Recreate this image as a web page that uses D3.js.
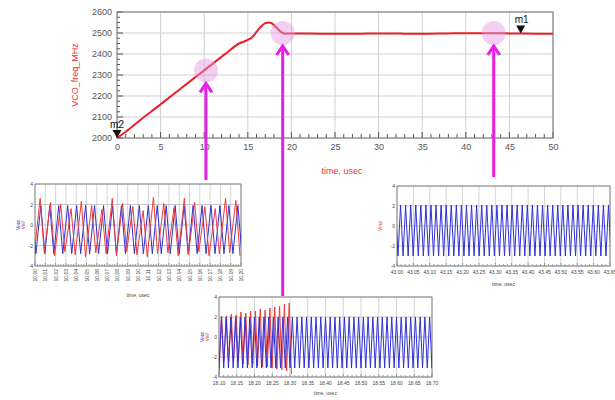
<!DOCTYPE html>
<html>
<head>
<meta charset="utf-8">
<script src="https://cdn.jsdelivr.net/npm/d3@7"></script>
<style>
  body { margin: 0; background: #fff; }
  svg { font-family: Arial, "Liberation Sans", sans-serif; }
</style>
</head>
<body>
<svg id="chart" width="615" height="400"></svg>
<script>
// main trace: VCO frequency vs time
var freqTime = [0, 1, 2.5, 5, 7.5, 10, 12.5, 14, 15, 15.5, 16, 16.5, 17, 17.4, 17.8, 18.3, 18.8, 19.3, 20, 22, 25, 28, 30, 33, 35, 38, 40, 43, 45, 48, 50]
var freqMHz = [2000, 2030, 2080, 2160, 2242, 2322, 2403, 2450, 2467, 2480, 2505, 2530, 2547, 2550, 2545, 2525, 2505, 2497, 2498, 2498, 2496, 2497, 2498, 2497, 2496, 2498, 2499, 2499, 2498, 2497, 2496]

var xTickLabels = [0, 5, 10, 15, 20, 25, 30, 35, 40, 45, 50]
var yTickLabels = [2000, 2100, 2200, 2300, 2400, 2500, 2600]

var markerNames = ['m1', 'm2']
var markerTime = [46.3, 0]
var markerValue = [2498, 2000]

var spotTime = [10.2, 19, 43.2]
var spotValue = [2322, 2500, 2500]

// zoomed scope windows (volts), one entry per inset
var voltTicks = [4, 2, 0, -2, -4]
var leftTimeLabels = ['10.00', '10.01', '10.02', '10.03', '10.04', '10.05', '10.06', '10.07', '10.08', '10.09', '10.10', '10.11', '10.12', '10.13', '10.14', '10.15', '10.16', '10.17', '10.18', '10.19', '10.20']
var bottomTimeLabels = ['18.10', '18.15', '18.20', '18.25', '18.30', '18.35', '18.40', '18.45', '18.50', '18.55', '18.60', '18.65', '18.70']
var rightTimeLabels = ['43.00', '43.05', '43.10', '43.15', '43.20', '43.25', '43.30', '43.35', '43.40', '43.45', '43.50', '43.55', '43.60', '43.65']

// per-cycle extremes
var leftRedPeaks = [2.6, 2.2, 2.0, 1.6, 2.3, 1.9, 1.5, 2.6, 2.1, 1.8, 1.4, 2.7, 2.1, 1.7, 2.6, 2.2, 1.8, 1.6, 2.6, 2.4]
var leftRedTroughs = [-2.7, -3.0, -2.6, -2.9, -3.1, -2.7, -2.8, -3.0, -2.6, -2.9, -3.1, -2.8, -2.7, -3.0, -2.9, -2.6, -3.0, -2.8, -2.7, -3.0]
var bottomRedPeaks = [2.1, 2.1, 2.3, 2.2, 2.5, 2.4, 2.6, 2.6, 2.8, 2.7, 2.9, 3.0, 3.1, 3.3, 3.4]
var bottomRedTroughs = [-2.4, -2.5, -2.6, -2.5, -2.7, -2.8, -2.7, -2.9, -3.0, -3.0, -3.1, -3.2, -3.3, -3.4, -3.7]

var svg = d3.select('#chart')

// ---------- main chart ----------
var x = d3.scaleLinear().domain([0, 50]).range([117, 553])
var y = d3.scaleLinear().domain([2000, 2600]).range([138, 12])

var main = svg.append('g').attr('class', 'main')

main.append('g')
  .selectAll('line')
  .data(xTickLabels)
  .enter()
  .append('line')
  .attr('x1', function(d) { return x(d) })
  .attr('x2', function(d) { return x(d) })
  .attr('y1', y.range()[1])
  .attr('y2', y.range()[0])
  .attr('stroke', '#d0d0d0')

main.append('g')
  .selectAll('line')
  .data(yTickLabels)
  .enter()
  .append('line')
  .attr('x1', x.range()[0])
  .attr('x2', x.range()[1])
  .attr('y1', function(d) { return y(d) })
  .attr('y2', function(d) { return y(d) })
  .attr('stroke', '#d0d0d0')

// minor ticks along the inside of the frame
main.append('g')
  .selectAll('line')
  .data(d3.range(0, 51, 1))
  .enter()
  .append('line')
  .attr('x1', function(d) { return x(d) })
  .attr('x2', function(d) { return x(d) })
  .attr('y1', y(2000))
  .attr('y2', function(d) { return d % 5 == 0 ? y(2000) - 6 : y(2000) - 4 })
  .attr('stroke', '#555')

main.append('g')
  .selectAll('line')
  .data(d3.range(2000, 2601, 25))
  .enter()
  .append('line')
  .attr('x1', x(0))
  .attr('x2', function(d) { return d % 100 == 0 ? x(0) + 6 : x(0) + 3 })
  .attr('y1', function(d) { return y(d) })
  .attr('y2', function(d) { return y(d) })
  .attr('stroke', '#555')

main.append('rect')
  .attr('x', x.range()[0])
  .attr('y', y.range()[1])
  .attr('width', x.range()[1] - x.range()[0])
  .attr('height', y.range()[0] - y.range()[1])
  .attr('fill', 'none')
  .attr('stroke', '#777')

var xAxis = main.append('g')
  .attr('transform', 'translate(0,' + y.range()[0] + ')')
  .call(d3.axisBottom(x).tickValues(xTickLabels).tickFormat(d3.format('d')).tickSize(0).tickPadding(6))
var yAxis = main.append('g')
  .attr('transform', 'translate(' + x.range()[0] + ',0)')
  .call(d3.axisLeft(y).tickValues(yTickLabels).tickFormat(d3.format('d')).tickSize(0).tickPadding(5))
;[xAxis, yAxis].forEach(function(a) {
  a.select('.domain').remove()
  a.selectAll('text').attr('fill', '#555').style('font-size', '9px').style('font-family', 'Arial, "Liberation Sans", sans-serif')
})

main.append('text')
  .attr('transform', 'translate(78,75) rotate(-90)')
  .attr('text-anchor', 'middle')
  .attr('fill', '#ee3333')
  .style('font-size', '9px')
  .text('VCO_freq_MHz')

main.append('text')
  .attr('x', 342)
  .attr('y', 174)
  .attr('text-anchor', 'middle')
  .attr('fill', '#ee3333')
  .style('font-size', '9px')
  .text('time, usec')

var freqLine = d3.line()
  .x(function(d, i) { return x(freqTime[i]) })
  .y(function(d) { return y(d) })
  .curve(d3.curveMonotoneX)

main.append('path')
  .attr('d', freqLine(freqMHz))
  .attr('fill', 'none')
  .attr('stroke', '#e8202a')
  .attr('stroke-width', 2)

// pink highlight spots
main.append('g')
  .selectAll('circle')
  .data(spotTime)
  .enter()
  .append('circle')
  .attr('cx', function(d) { return x(d) })
  .attr('cy', function(d, i) { return y(spotValue[i]) })
  .attr('r', 12)
  .attr('fill', 'rgba(225,150,225,0.45)')

// markers
markerNames.forEach(function(name, i) {
  var mx = x(markerTime[i])
  var my = y(markerValue[i])
  main.append('path')
    .attr('d', 'M' + (mx - 4.5) + ' ' + (my - 8) + 'L' + (mx + 4.5) + ' ' + (my - 8) + 'L' + mx + ' ' + my + 'Z')
    .attr('fill', '#111')
  main.append('text')
    .attr('x', mx + (i == 1 ? 0 : 1))
    .attr('y', my - 10)
    .attr('text-anchor', 'middle')
    .attr('fill', '#111')
    .style('font-size', '10px')
    .text(name)
})

// ---------- scope insets ----------
function drawScope(cfg) {
  var sx = d3.scaleLinear().domain([0, 1]).range(cfg.xr)
  var sy = d3.scaleLinear().domain([-4, 4]).range(cfg.yr)
  var g = svg.append('g')
  var id = 'clip-' + cfg.name

  g.append('clipPath').attr('id', id)
    .append('rect')
    .attr('x', cfg.xr[0]).attr('y', cfg.yr[1])
    .attr('width', cfg.xr[1] - cfg.xr[0]).attr('height', cfg.yr[0] - cfg.yr[1])

  var n = cfg.labels.length - 1
  g.append('g')
    .selectAll('line')
    .data(cfg.labels)
    .enter()
    .append('line')
    .attr('x1', function(d, i) { return sx(i / n) })
    .attr('x2', function(d, i) { return sx(i / n) })
    .attr('y1', cfg.yr[0]).attr('y2', cfg.yr[1])
    .attr('stroke', '#d4d4d4')

  g.append('g')
    .selectAll('line')
    .data(d3.range(0, n * 4 + 1))
    .enter()
    .append('line')
    .attr('x1', function(d) { return sx(d / (n * 4)) })
    .attr('x2', function(d) { return sx(d / (n * 4)) })
    .attr('y1', cfg.yr[0]).attr('y2', function(d) { return cfg.yr[0] - (d % 4 == 0 ? 3 : 2) })
    .attr('stroke', '#666')
    .attr('stroke-width', 0.6)

  g.append('g')
    .selectAll('line')
    .data(voltTicks)
    .enter()
    .append('line')
    .attr('x1', cfg.xr[0]).attr('x2', cfg.xr[1])
    .attr('y1', function(d) { return sy(d) })
    .attr('y2', function(d) { return sy(d) })
    .attr('stroke', '#bbb')
    .attr('stroke-width', 0.8)

  g.append('rect')
    .attr('x', cfg.xr[0]).attr('y', cfg.yr[1])
    .attr('width', cfg.xr[1] - cfg.xr[0]).attr('height', cfg.yr[0] - cfg.yr[1])
    .attr('fill', 'none').attr('stroke', '#888')

  var waves = g.append('g').attr('clip-path', 'url(#' + id + ')')
  var line = d3.line().x(function(d) { return sx(d[0]) }).y(function(d) { return sy(d[1]) })

  // blue: even sawtooth across the whole window
  var bluePts = []
  var T = 1 / cfg.blueCycles
  for (var i = -1; i <= cfg.blueCycles + 1; i++) {
    var t0 = (i + cfg.bluePhase) * T
    bluePts.push([t0, cfg.blueLow])
    bluePts.push([t0 + cfg.rise * T, cfg.blueHigh])
  }

  // red: one entry per cycle
  if (cfg.redPeaks) {
    var redPts = []
    var RT = cfg.redSpan / cfg.redPeaks.length
    cfg.redPeaks.forEach(function(p, k) {
      var t0 = (k + cfg.redPhase) * RT
      redPts.push([t0, cfg.redTroughs[(k + cfg.redTroughs.length - 1) % cfg.redTroughs.length]])
      redPts.push([t0 + cfg.redRise * RT, p])
    })
    redPts.push([(cfg.redPeaks.length + cfg.redPhase) * RT, cfg.redTroughs[cfg.redTroughs.length - 1]])
    if (cfg.redFirst) {
      waves.append('path').attr('d', line(redPts)).attr('fill', 'none').attr('stroke', '#ee3a3a').attr('stroke-width', 1)
      waves.append('path').attr('d', line(bluePts)).attr('fill', 'none').attr('stroke', '#3030d8').attr('stroke-width', 1)
    } else {
      waves.append('path').attr('d', line(bluePts)).attr('fill', 'none').attr('stroke', '#3030d8').attr('stroke-width', 1)
      waves.append('path').attr('d', line(redPts)).attr('fill', 'none').attr('stroke', '#ee3a3a').attr('stroke-width', 1)
    }
  } else {
    waves.append('path').attr('d', line(bluePts)).attr('fill', 'none').attr('stroke', '#3030d8').attr('stroke-width', 1)
  }

  // volt tick labels
  g.append('g')
    .selectAll('text')
    .data(voltTicks)
    .enter()
    .append('text')
    .attr('x', cfg.xr[0] - 2)
    .attr('y', function(d) { return sy(d) + 2 })
    .attr('text-anchor', 'end')
    .attr('fill', '#444')
    .style('font-size', '5px')
    .text(function(d) { return d })

  // time tick labels
  var lab = g.append('g')
    .selectAll('text')
    .data(cfg.labels)
    .enter()
    .append('text')
    .attr('fill', '#444')
    .style('font-size', '5px')
    .text(function(d) { return d })
  if (cfg.rotate) {
    lab.attr('transform', function(d, i) { return 'translate(' + (sx(i / n) + 2) + ',' + (cfg.yr[0] + 3) + ') rotate(-90)' })
      .attr('text-anchor', 'end')
  } else {
    lab.attr('x', function(d, i) { return sx(i / n) })
      .attr('y', cfg.yr[0] + 8)
      .attr('text-anchor', 'middle')
  }

  g.append('text')
    .attr('x', (cfg.xr[0] + cfg.xr[1]) / 2)
    .attr('y', cfg.titleY)
    .attr('text-anchor', 'middle')
    .attr('fill', '#444')
    .style('font-size', '5px')
    .text('time, usec')

  // channel names
  var cy = (cfg.yr[0] + cfg.yr[1]) / 2
  cfg.names.forEach(function(nm, k) {
    g.append('text')
      .attr('transform', 'translate(' + (cfg.xr[0] - 15 + k * 5) + ',' + cy + ') rotate(-90)')
      .attr('text-anchor', 'middle')
      .attr('fill', nm[1])
      .style('font-size', '5px')
      .text(nm[0])
  })
}

drawScope({
  name: 'left', xr: [35, 241], yr: [266, 184], labels: leftTimeLabels, rotate: true, titleY: 297,
  blueCycles: 23, bluePhase: 0.1, blueHigh: 1.9, blueLow: -2.8, rise: 0.55,
  redPeaks: leftRedPeaks, redTroughs: leftRedTroughs, redSpan: 1, redPhase: -0.1, redRise: 0.6, redFirst: false,
  names: [['Vout', '#3030d8'], ['Vref', '#ee3a3a']]
})

drawScope({
  name: 'bottom', xr: [219, 432], yr: [377, 297], labels: bottomTimeLabels, rotate: false, titleY: 395,
  blueCycles: 45, bluePhase: 0, blueHigh: 2.0, blueLow: -3.1, rise: 0.5,
  redPeaks: bottomRedPeaks, redTroughs: bottomRedTroughs, redSpan: 0.34, redPhase: 0, redRise: 0.55, redFirst: true,
  names: [['Vout', '#3030d8'], ['Vref', '#ee3a3a']]
})

drawScope({
  name: 'right', xr: [397, 610], yr: [266, 186], labels: rightTimeLabels, rotate: false, titleY: 286,
  blueCycles: 42, bluePhase: 0.2, blueHigh: 2.1, blueLow: -3.0, rise: 0.5,
  names: [['Vout', '#ee3a3a']]
})

// ---------- magenta pointers ----------
var arrowFrom = [180, 296, 177]
var arrows = svg.append('g').attr('stroke', '#e81ee8').attr('stroke-width', 3).attr('fill', 'none')
spotTime.forEach(function(t, i) {
  var ax = x(t)
  var tip = y(spotValue[i]) + 13
  arrows.append('line').attr('x1', ax).attr('x2', ax).attr('y1', arrowFrom[i]).attr('y2', tip + 1)
  arrows.append('path').attr('d', 'M' + (ax - 6) + ' ' + (tip + 9) + 'L' + ax + ' ' + tip + 'L' + (ax + 6) + ' ' + (tip + 9))
})
</script>
</body>
</html>
